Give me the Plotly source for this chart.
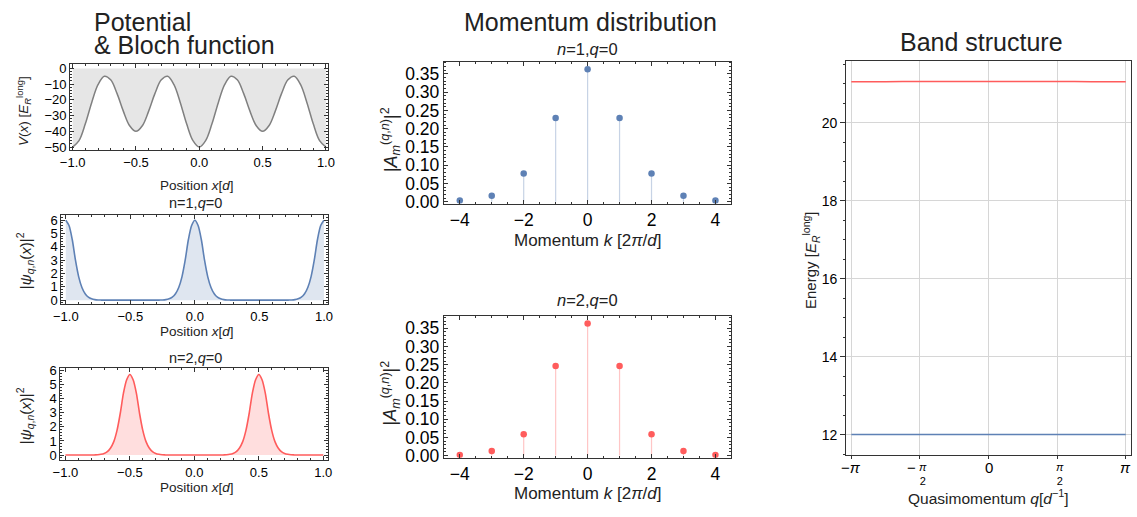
import plotly.graph_objects as go

W, H = 1137, 517

# ---------------- data ----------------
pot_x = [-1.0, -0.95, -0.9, -0.85, -0.8, -0.75, -0.7, -0.65, -0.6, -0.55, -0.5,
         -0.45, -0.4, -0.35, -0.3, -0.25, -0.2, -0.15, -0.1, -0.05, 0.0,
         0.05, 0.1, 0.15, 0.2, 0.25, 0.3, 0.35, 0.4, 0.45, 0.5,
         0.55, 0.6, 0.65, 0.7, 0.75, 0.8, 0.85, 0.9, 0.95, 1.0]
pot_v = [-50.0, -45.94, -35.23, -21.76, -10.37, -5.0, -7.27, -15.88, -27.13, -36.42, -40.0,
         -36.42, -27.13, -15.88, -7.27, -5.0, -10.37, -21.76, -35.23, -45.94, -50.0,
         -45.94, -35.23, -21.76, -10.37, -5.0, -7.27, -15.88, -27.13, -36.42, -40.0,
         -36.42, -27.13, -15.88, -7.27, -5.0, -10.37, -21.76, -35.23, -45.94, -50.0]

wave_x = [-1.0, -0.975, -0.95, -0.925, -0.9, -0.875, -0.85, -0.825, -0.8, -0.775,
          -0.75, -0.725, -0.7, -0.675, -0.65, -0.625, -0.6, -0.575, -0.55, -0.525,
          -0.5, -0.475, -0.45, -0.425, -0.4, -0.375, -0.35, -0.325, -0.3, -0.275,
          -0.25, -0.225, -0.2, -0.175, -0.15, -0.125, -0.1, -0.075, -0.05, -0.025,
          0.0,
          0.025, 0.05, 0.075, 0.1, 0.125, 0.15, 0.175, 0.2, 0.225, 0.25,
          0.275, 0.3, 0.325, 0.35, 0.375, 0.4, 0.425, 0.45, 0.475, 0.5,
          0.525, 0.55, 0.575, 0.6, 0.625, 0.65, 0.675, 0.7, 0.725, 0.75,
          0.775, 0.8, 0.825, 0.85, 0.875, 0.9, 0.925, 0.95, 0.975, 1.0]
wave_n1 = [6.0, 5.6, 4.55, 3.0, 1.75, 0.95, 0.48, 0.22, 0.1, 0.04,
           0.015, 0.005, 0, 0, 0, 0, 0, 0, 0, 0,
           0, 0, 0, 0, 0, 0, 0, 0, 0, 0.005,
           0.015, 0.04, 0.1, 0.22, 0.48, 0.95, 1.75, 3.0, 4.55, 5.6,
           6.0,
           5.6, 4.55, 3.0, 1.75, 0.95, 0.48, 0.22, 0.1, 0.04, 0.015,
           0.005, 0, 0, 0, 0, 0, 0, 0, 0, 0,
           0, 0, 0, 0, 0, 0, 0, 0, 0.005, 0.015,
           0.04, 0.1, 0.22, 0.48, 0.95, 1.75, 3.0, 4.55, 5.6, 6.0]
wave_n2 = [0, 0, 0, 0, 0, 0, 0, 0, 0, 0.007,
           0.02, 0.05, 0.11, 0.24, 0.5, 0.95, 1.75, 2.95, 4.4, 5.35,
           5.72, 5.35, 4.4, 2.95, 1.75, 0.95, 0.5, 0.24, 0.11, 0.05,
           0.02, 0.007, 0, 0, 0, 0, 0, 0, 0, 0,
           0,
           0, 0, 0, 0, 0, 0, 0, 0, 0.007, 0.02,
           0.05, 0.11, 0.24, 0.5, 0.95, 1.75, 2.95, 4.4, 5.35, 5.72,
           5.35, 4.4, 2.95, 1.75, 0.95, 0.5, 0.24, 0.11, 0.05, 0.02,
           0.007, 0, 0, 0, 0, 0, 0, 0, 0, 0]

mom_m = [-4, -3, -2, -1, 0, 1, 2, 3, 4]
mom_n1 = [0.003, 0.016, 0.077, 0.229, 0.363, 0.229, 0.077, 0.016, 0.003]
mom_n2 = [0.002, 0.013, 0.059, 0.246, 0.363, 0.246, 0.059, 0.013, 0.002]

band_q = [-3.1416, -2.3562, -1.5708, -0.7854, 0.0, 0.7854, 1.5708, 2.3562, 3.1416]
band_1 = [12.0, 12.0, 12.0, 12.0, 12.0, 12.0, 12.0, 12.0, 12.0]
band_2 = [21.05, 21.052, 21.054, 21.055, 21.056, 21.055, 21.054, 21.052, 21.05]

q_tick_vals = [-3.14159, -1.5708, 0.0, 1.5708, 3.14159]

# ---------------- style ----------------
BLUE = "rgb(94,129,181)"
RED = "rgb(255,92,92)"
FONT = "Liberation Sans, Arial, sans-serif"
FRAME = "#333333"


def px(x):
    return x / W


def py(y):
    return 1 - y / H


fig = go.Figure()

# Potential
fig.add_trace(go.Scatter(x=pot_x, y=[0] * len(pot_x), mode="lines",
                         line=dict(width=0), xaxis="x", yaxis="y", hoverinfo="skip"))
fig.add_trace(go.Scatter(x=pot_x, y=pot_v, mode="lines", fill="tonexty",
                         fillcolor="#e6e6e6", line=dict(color="#808080", width=1.5, shape="spline"),
                         xaxis="x", yaxis="y"))
# Bloch functions
fig.add_trace(go.Scatter(x=wave_x, y=wave_n1, mode="lines", fill="tozeroy",
                         fillcolor="rgba(94,129,181,0.2)",
                         line=dict(color=BLUE, width=1.6, shape="spline", smoothing=0.8),
                         xaxis="x2", yaxis="y2"))
fig.add_trace(go.Scatter(x=wave_x, y=wave_n2, mode="lines", fill="tozeroy",
                         fillcolor="rgba(255,92,92,0.2)",
                         line=dict(color=RED, width=1.6, shape="spline", smoothing=0.8),
                         xaxis="x3", yaxis="y3"))


def stems(ms, vs):
    xs, ys = [], []
    for m, v in zip(ms, vs):
        xs += [m, m, None]
        ys += [0, v, None]
    return xs, ys


sx, sy = stems(mom_m, mom_n1)
fig.add_trace(go.Scatter(x=sx, y=sy, mode="lines", line=dict(color="rgba(94,129,181,0.35)", width=1.2),
                         xaxis="x4", yaxis="y4"))
fig.add_trace(go.Scatter(x=mom_m, y=mom_n1, mode="markers", marker=dict(color=BLUE, size=6.5),
                         xaxis="x4", yaxis="y4"))
sx, sy = stems(mom_m, mom_n2)
fig.add_trace(go.Scatter(x=sx, y=sy, mode="lines", line=dict(color="rgba(255,92,92,0.35)", width=1.2),
                         xaxis="x5", yaxis="y5"))
fig.add_trace(go.Scatter(x=mom_m, y=mom_n2, mode="markers", marker=dict(color=RED, size=6.5),
                         xaxis="x5", yaxis="y5"))

# Band structure
fig.add_trace(go.Scatter(x=band_q, y=band_1, mode="lines", line=dict(color=BLUE, width=1.5, shape="spline"),
                         xaxis="x6", yaxis="y6"))
fig.add_trace(go.Scatter(x=band_q, y=band_2, mode="lines", line=dict(color=RED, width=1.5, shape="spline"),
                         xaxis="x6", yaxis="y6"))


def frame_axis(domain, rng, anchor, size, **kw):
    d = dict(domain=domain, range=rng, anchor=anchor, showline=True, linecolor=FRAME, linewidth=1,
             mirror="allticks", ticks="inside", ticklen=4, tickcolor=FRAME, tickwidth=1,
             showgrid=False, zeroline=False, fixedrange=True,
             tickfont=dict(family=FONT, size=size, color="#000000"))
    d.update(kw)
    return d


def minor(dt, ln=2):
    return dict(ticks="inside", ticklen=ln, tickcolor=FRAME, dtick=dt, showgrid=False)


layout = dict(
    width=W, height=H, margin=dict(l=0, r=0, t=0, b=0),
    paper_bgcolor="white", plot_bgcolor="white", showlegend=False,
    font=dict(family=FONT, color="#222222"),
)

LT = 13     # left tick font
MT = 17.5   # middle tick font

# A potential
layout["xaxis"] = frame_axis([px(61), px(323)], [-1.02, 1.02], "y", LT,
                             dtick=0.5, tick0=0, tickformat=".1f", minor=minor(0.1))
layout["yaxis"] = frame_axis([py(149), py(61)], [-52, 2.5], "x", LT,
                             dtick=10, tick0=0, minor=minor(2))
# B n=1
layout["xaxis2"] = frame_axis([px(52), px(323)], [-1.035, 1.035], "y2", LT,
                              dtick=0.5, tick0=0, tickformat=".1f", minor=minor(0.1))
layout["yaxis2"] = frame_axis([py(307), py(215)], [-0.31, 6.42], "x2", LT,
                              dtick=1, tick0=0, minor=minor(0.2))
# C n=2
layout["xaxis3"] = frame_axis([px(51), px(323)], [-1.04, 1.04], "y3", LT,
                              dtick=0.5, tick0=0, tickformat=".1f", minor=minor(0.1))
layout["yaxis3"] = frame_axis([py(466.7), py(372.7)], [-0.35, 6.16], "x3", LT,
                              dtick=1, tick0=0, minor=minor(0.2))
# D momentum n=1
layout["xaxis4"] = frame_axis([px(440), px(731.7)], [-4.5, 4.5], "y4", MT,
                              dtick=2, tick0=0, minor=minor(0.5))
layout["yaxis4"] = frame_axis([py(204), py(58.3)], [-0.006, 0.383], "x4", MT,
                              dtick=0.05, tick0=0, tickformat=".2f", minor=minor(0.01))
# E momentum n=2
layout["xaxis5"] = frame_axis([px(440), px(731.7)], [-4.5, 4.5], "y5", MT,
                              dtick=2, tick0=0, minor=minor(0.5))
layout["yaxis5"] = frame_axis([py(464.3), py(319.3)], [-0.0055, 0.383], "x5", MT,
                              dtick=0.05, tick0=0, tickformat=".2f", minor=minor(0.01))
# F band structure
layout["xaxis6"] = dict(domain=[px(848), 1.0], range=[-3.26159, 3.26159], anchor="y6",
                        showline=True, linecolor=FRAME, linewidth=1, mirror=True,
                        ticks="outside", ticklen=3, tickcolor=FRAME,
                        tickvals=q_tick_vals, showticklabels=False,
                        showgrid=True, gridcolor="#d6d6d6", gridwidth=1, zeroline=False, fixedrange=True)
layout["yaxis6"] = dict(domain=[py(461.7), py(57.7)], range=[11.475, 21.575], anchor="x6",
                        showline=True, linecolor=FRAME, linewidth=1, mirror=True,
                        ticks="outside", ticklen=5, tickcolor=FRAME, dtick=2, tick0=0,
                        minor=dict(ticks="outside", ticklen=2.5, tickcolor=FRAME, dtick=0.5, showgrid=False),
                        showgrid=True, gridcolor="#d6d6d6", gridwidth=1, zeroline=False, fixedrange=True,
                        tickfont=dict(family=FONT, size=14, color="#000000"))

ann = []


def text(x, y, t, size, angle=0, xanchor="center", color="#222222"):
    ann.append(dict(x=px(x), y=py(y), xref="paper", yref="paper", text=t, showarrow=False,
                    xanchor=xanchor, yanchor="middle", textangle=angle, borderpad=0,
                    font=dict(family=FONT, size=size, color=color)))


# titles
text(84, 17, "Potential", 25, xanchor="left")
text(84, 41, "&amp; Bloch function", 25, xanchor="left")
text(589, 17, "Momentum distribution", 25)
text(985, 38, "Band structure", 25)

# left column labels
text(14, 109, "<i>V</i>(<i>x</i>) [<i>E</i><sub><i>R</i></sub><sup>long</sup>]", 13.5, angle=-90)
text(190, 185, "Position <i>x</i>[<i>d</i>]", 13.5)
text(188, 203, "n=1,<i>q</i>=0", 14.5)
text(15, 262, "|<i>ψ</i><sub><i>q</i>,<i>n</i></sub>(<i>x</i>)|<sup>2</sup>", 15, angle=-90)
text(190, 335, "Position <i>x</i>[<i>d</i>]", 13.5)
text(188, 362, "n=2,<i>q</i>=0", 14.5)
text(15, 421, "|<i>ψ</i><sub><i>q</i>,<i>n</i></sub>(<i>x</i>)|<sup>2</sup>", 15, angle=-90)
text(190, 495, "Position <i>x</i>[<i>d</i>]", 13.5)

# middle column labels
text(586, 45, "<i>n</i>=1,<i>q</i>=0", 16.5)
text(386, 138, "|<i>A</i><sub><i>m</i></sub><sup>(<i>q</i>,<i>n</i>)</sup>|<sup>2</sup>", 18, angle=-90)
text(586, 242, "Momentum <i>k</i> [2<i>π</i>/<i>d</i>]", 17)
text(586, 303, "<i>n</i>=2,<i>q</i>=0", 16.5)
text(386, 398, "|<i>A</i><sub><i>m</i></sub><sup>(<i>q</i>,<i>n</i>)</sup>|<sup>2</sup>", 18, angle=-90)
text(586, 501, "Momentum <i>k</i> [2<i>π</i>/<i>d</i>]", 17)

# right column labels
text(812, 262, "Energy [<i>E</i><sub><i>R</i></sub><sup>long</sup>]", 15, angle=-90)
text(992, 505, "Quasimomentum <i>q</i>[<i>d</i><sup>−1</sup>]", 15.5)

# band x tick labels (pi fractions)
qlabels = ["−<i>π</i>", "<i>π</i><br>2", "0", "<i>π</i><br>2", "<i>π</i>"]
for v, lab in zip(q_tick_vals, qlabels):
    frac = "<br>" in lab
    ann.append(dict(x=v, y=py(481 if frac else 474), xref="x6", yref="paper", text=lab, showarrow=False,
                    xanchor="center", yanchor="middle", xshift=3 if frac else 0, borderpad=0,
                    font=dict(family=FONT, size=11 if frac else 15, color="#000000")))
    if frac and v < 0:
        ann.append(dict(x=v, y=py(474), xref="x6", yref="paper", text="−", showarrow=False,
                        xanchor="center", yanchor="middle", xshift=-8, borderpad=0,
                        font=dict(family=FONT, size=15, color="#000000")))

layout["annotations"] = ann
fig.update_layout(**layout)

fig.write_html("out.html")
